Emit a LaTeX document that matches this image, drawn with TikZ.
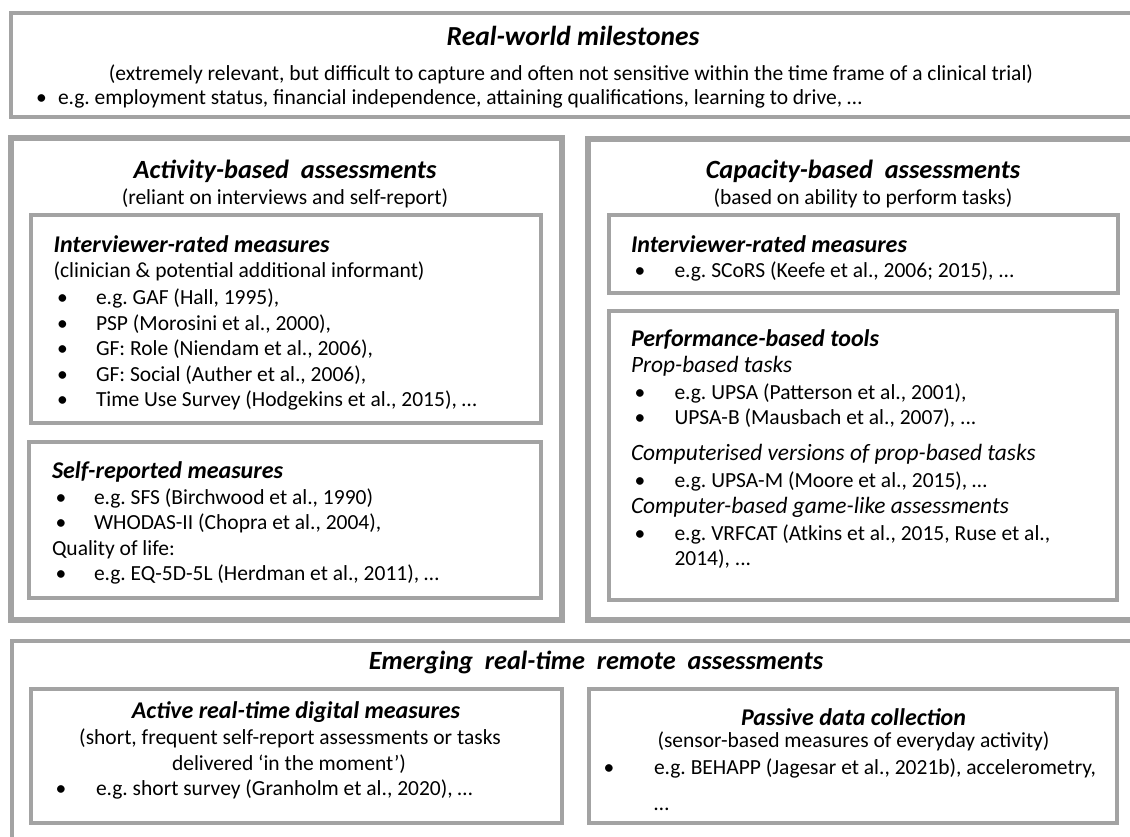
\documentclass[tikz,border=0pt]{standalone}
\usepackage{fontspec}
\setmainfont{Carlito}
\definecolor{bordergray}{RGB}{163,163,163}
\frenchspacing
\begin{document}
\begin{tikzpicture}[x=1pt,y=-1pt,
  box/.style={draw=bordergray,line width=4.5pt},
  bigbox/.style={draw=bordergray,line width=6pt},
  txt/.style={inner sep=0pt,outer sep=0pt,anchor=base west,font=\fontsize{21.5}{25}\selectfont},
  ctxt/.style={txt,anchor=base},
  ttl/.style={inner sep=0pt,anchor=base,font=\fontsize{26.3}{30}\selectfont\bfseries\itshape},
  hd/.style={txt,font=\fontsize{24}{28}\selectfont\bfseries\itshape},
  chd/.style={hd,anchor=base},
  itx/.style={txt,font=\fontsize{23.4}{27}\selectfont\itshape}]
\useasboundingbox (0,0) rectangle (1130,837);
\clip (0,0) rectangle (1130,837);
\fill[white] (0,0) rectangle (1130,837);
% boxes
\draw[box] (11,13) rectangle (1140,117);
\draw[bigbox] (10.5,138.5) rectangle (562,620);
\draw[box] (31,215) rectangle (541,423);
\draw[box] (29,442) rectangle (541,598);
\draw[bigbox] (588,139) rectangle (1140,620);
\draw[box] (609,215) rectangle (1118,293);
\draw[box] (609,311) rectangle (1117,600);
\draw[box] (12,641) rectangle (1140,860);
\draw[box] (31,689) rectangle (562,823);
\draw[box] (589,689) rectangle (1117,823);
% top
\node[ttl,font=\fontsize{27.5}{32}\selectfont\bfseries\itshape] (rwt) at (573,46) {Real-world milestones};
\node[ctxt] (rws) at (571,81) {(extremely relevant, but difficult to capture and often not sensitive within the time frame of a clinical trial)};
\node[txt] (rwb) at (36,105) {•};
\node[txt] (rwl) at (58,105) {e.g. employment status, financial independence, attaining qualifications, learning to drive, …};
% activity
\node[ttl] (abt) at (285,179) {Activity-based\ \ assessments};
\node[ctxt] (abs) at (285,205) {(reliant on interviews and self-report)};
\node[hd] (irh) at (53.6,252) {Interviewer-rated measures};
\node[txt] (irs) at (53.6,277) {(clinician \& potential additional informant)};
\node[txt] (irb1) at (57,304) {•};
\node[txt] (irl1) at (96,304) {e.g. GAF (Hall, 1995),};
\node[txt] (irb2) at (57,330) {•};
\node[txt] (irl2) at (96,330) {PSP (Morosini et al., 2000),};
\node[txt] (irb3) at (57,355.5) {•};
\node[txt] (irl3) at (96,355.5) {GF: Role (Niendam et al., 2006),};
\node[txt] (irb4) at (57,381) {•};
\node[txt] (irl4) at (96,381) {GF: Social (Auther et al., 2006),};
\node[txt] (irb5) at (57,406.5) {•};
\node[txt] (irl5) at (96,406.5) {Time Use Survey (Hodgekins et al., 2015), …};
\node[hd] (srh) at (52,478) {Self-reported measures};
\node[txt] (srb1) at (55.5,504) {•};
\node[txt] (srl1) at (94,504) {e.g. SFS (Birchwood et al., 1990)};
\node[txt] (srb2) at (55.5,529.5) {•};
\node[txt] (srl2) at (94,529.5) {WHODAS-II (Chopra et al., 2004),};
\node[txt] (srq) at (52,555) {Quality of life:};
\node[txt] (srb3) at (55.5,580.5) {•};
\node[txt] (srl3) at (94,580.5) {e.g. EQ-5D-5L (Herdman et al., 2011), …};
% capacity
\node[ttl] (cbt) at (863,179) {Capacity-based\ \ assessments};
\node[ctxt] (cbs) at (863,205) {(based on ability to perform tasks)};
\node[hd] (cih) at (631,252) {Interviewer-rated measures};
\node[txt] (cib) at (634.5,277) {•};
\node[txt] (cil) at (674.5,277) {e.g. SCoRS (Keefe et al., 2006; 2015), ...};
\node[hd] (pbh) at (631,346) {Performance-based tools};
\node[itx] (pbp) at (631,372) {Prop-based tasks};
\node[txt] (pbb1) at (634.5,399) {•};
\node[txt] (pbl1) at (674.5,399) {e.g. UPSA (Patterson et al., 2001),};
\node[txt] (pbb2) at (634.5,424.5) {•};
\node[txt] (pbl2) at (674.5,424.5) {UPSA-B (Mausbach et al., 2007), ...};
\node[itx] (pbc) at (631,460) {Computerised versions of prop-based tasks};
\node[txt] (pbb3) at (634.5,487) {•};
\node[txt] (pbl3) at (674.5,487) {e.g. UPSA-M (Moore et al., 2015), …};
\node[itx] (pbg) at (631,513) {Computer-based game-like assessments};
\node[txt] (pbb4) at (634.5,540) {•};
\node[txt] (pbl4) at (674.5,540) {e.g. VRFCAT (Atkins et al., 2015, Ruse et al.,};
\node[txt] (pbl5) at (674.5,565) {2014), ...};
% emerging
\node[ttl] (ert) at (596,669) {Emerging\ \ real-time\ \ remote\ \ assessments};
\node[chd] (arh) at (296,718) {Active real-time digital measures};
\node[ctxt] (ars1) at (290,744) {(short, frequent self-report assessments or tasks};
\node[ctxt] (ars2) at (289,770) {delivered ‘in the moment’)};
\node[txt] (arb) at (55.5,795) {•};
\node[txt] (arl) at (96,795) {e.g. short survey (Granholm et al., 2020), …};
\node[chd] (pdh) at (853.5,725) {Passive data collection};
\node[ctxt] (pds) at (853.5,747) {(sensor-based measures of everyday activity)};
\node[txt] (pdb) at (603.6,774) {•};
\node[txt] (pdl1) at (654,774) {e.g. BEHAPP (Jagesar et al., 2021b), accelerometry,};
\node[txt] (pdl2) at (654,810) {…};
\end{tikzpicture}
\end{document}
